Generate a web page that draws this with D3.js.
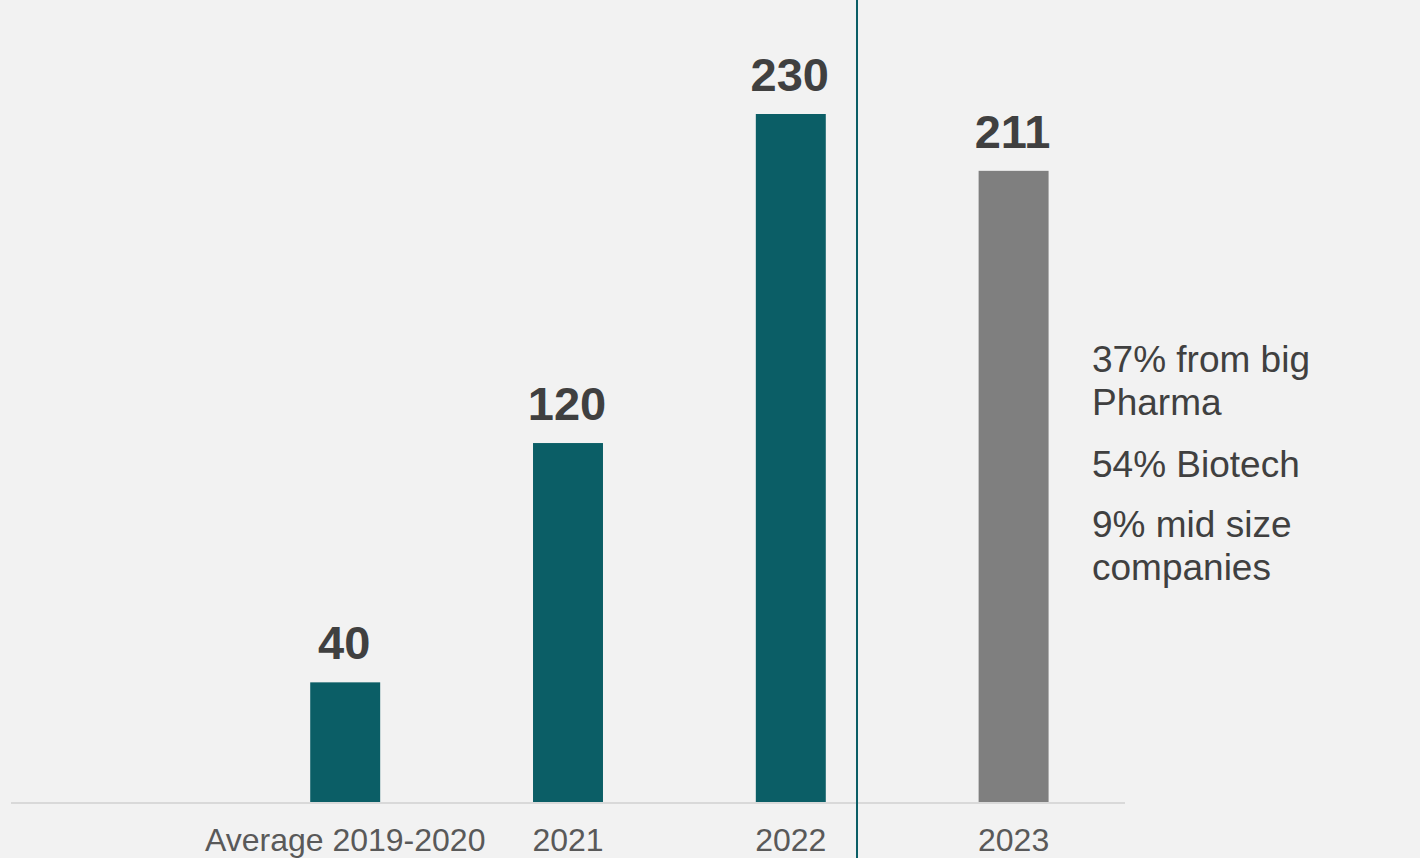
<!DOCTYPE html>
<html><head><meta charset="utf-8">
<script src="https://cdn.jsdelivr.net/npm/d3@7"></script>
<style>html,body{margin:0;padding:0;background:#f2f2f2;}svg{display:block;}</style>
</head><body>
<script>
const categories = ["Average 2019-2020", "2021", "2022", "2023"];
const values = [40, 120, 230, 211];
const barColors = ["#0b5e66", "#0b5e66", "#0b5e66", "#7f7f7f"];
const noteLines = ["37% from big", "Pharma", "54% Biotech", "9% mid size", "companies"];

const W = 1420, H = 858;
const svg = d3.select("body").append("svg").attr("width", W).attr("height", H);
svg.append("rect").attr("width", W).attr("height", H).attr("fill", "#f2f2f2");

const axisLeft = 11, axisRight = 1125, baseY = 802;
const step = (axisRight - axisLeft) / 5;
const x = d3.scaleBand().domain(categories)
  .range([axisLeft + step, axisRight]).paddingInner(0.686).paddingOuter(0.343);
const y = d3.scaleLinear().domain([0, 230]).range([baseY, 114]);

svg.selectAll("rect.bar").data(values).join("rect").attr("class", "bar")
  .attr("x", (d, i) => x(categories[i]))
  .attr("width", x.bandwidth())
  .attr("y", d => y(d))
  .attr("height", d => baseY - y(d))
  .attr("fill", (d, i) => barColors[i]);

svg.append("line").attr("x1", axisLeft).attr("x2", axisRight)
  .attr("y1", baseY + 1).attr("y2", baseY + 1)
  .attr("stroke", "#d9d9d9").attr("stroke-width", 2);

svg.selectAll("text.val").data(values).join("text").attr("class", "val")
  .attr("x", (d, i) => x(categories[i]) + x.bandwidth() / 2 - 1)
  .attr("y", d => y(d) - 23)
  .attr("text-anchor", "middle")
  .attr("font-family", "Liberation Sans, Arial, sans-serif")
  .attr("font-weight", "bold").attr("font-size", 47)
  .attr("fill", "#404040")
  .text(d => d);

const xAxis = svg.append("g").attr("transform", `translate(0,${baseY})`)
  .call(d3.axisBottom(x).tickSize(0).tickPadding(0));
xAxis.select(".domain").remove();
xAxis.selectAll("text")
  .attr("dy", null).attr("y", 49)
  .attr("font-family", "Liberation Sans, Arial, sans-serif")
  .attr("font-size", 32).attr("fill", "#595959");

svg.append("line").attr("x1", 857).attr("x2", 857).attr("y1", 0).attr("y2", H)
  .attr("stroke", "#0b5e66").attr("stroke-width", 2);

const noteY = [372, 415, 477, 537, 580];
svg.selectAll("text.note").data(noteLines).join("text").attr("class", "note")
  .attr("x", 1092).attr("y", (d, i) => noteY[i])
  .attr("font-family", "Liberation Sans, Arial, sans-serif")
  .attr("font-size", 37).attr("fill", "#404040")
  .text(d => d);
</script>
</body></html>
